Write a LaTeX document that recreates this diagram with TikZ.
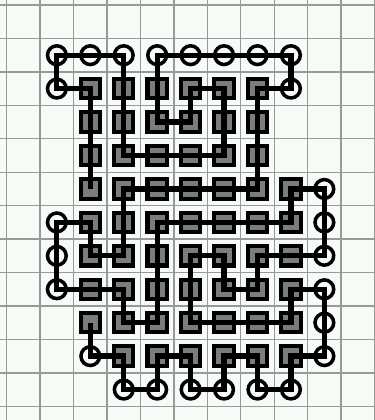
\documentclass[tikz,border=0pt]{standalone}
\usetikzlibrary{shapes.geometric}
\definecolor{bgcol}{HTML}{F7FBF7}
\definecolor{gridcol}{HTML}{979B97}
\definecolor{sqfill}{HTML}{7C7C7C}
\begin{document}
\begin{tikzpicture}[
  x=1cm,y=1cm,
  gridline/.style={draw=gridcol,line width=1.2pt},
  sqnode/.style={rectangle,draw=black,fill=sqfill,line width=3.5pt,minimum size=0.58cm,inner sep=0pt},
  circnode/.style={circle,draw=black,fill=bgcol,line width=3pt,minimum size=0.56cm,inner sep=0pt},
  tour/.style={draw=black,line width=4.5pt,line join=miter,line cap=butt}
]
\fill[bgcol] (-0.2,0.15) rectangle (11.01,-12.41);
\useasboundingbox (-0.2,0.15) rectangle (11.01,-12.41);
% grid
\foreach \i in {0,...,11} \draw[gridline] (\i,0.15) -- (\i,-12.41);
\foreach \j in {0,...,12} \draw[gridline] (-0.2,-\j) -- (11.01,-\j);
% circles
\foreach \c/\r in {1/1,2/1,3/1,4/1,5/1,6/1,7/1,8/1,1/2,8/2,9/5,1/6,9/6,1/7,9/7,1/8,9/8,9/9,2/10,9/10,3/11,4/11,5/11,6/11,7/11,8/11}
  \node[circnode] (n\c-\r) at (\c+0.5,-\r-0.5) {};
% squares
\foreach \r in {2,3,4} \foreach \c in {2,...,7}
  \node[sqnode] (n\c-\r) at (\c+0.5,-\r-0.5) {};
\foreach \r in {5,6,7,8,9} \foreach \c in {2,...,8}
  \node[sqnode] (n\c-\r) at (\c+0.5,-\r-0.5) {};
\foreach \c in {3,...,8}
  \node[sqnode] (n\c-10) at (\c+0.5,-10.5) {};
% tour
\draw[tour] (n2-9.center) -- (n2-10.center) -- (n3-10.center) -- (n3-11.center)
  -- (n4-11.center) -- (n4-10.center) -- (n5-10.center) -- (n5-11.center)
  -- (n6-11.center) -- (n6-10.center) -- (n7-10.center) -- (n7-11.center)
  -- (n8-11.center) -- (n8-10.center) -- (n9-10.center) -- (n9-8.center)
  -- (n8-8.center) -- (n8-9.center) -- (n5-9.center) -- (n5-7.center)
  -- (n6-7.center) -- (n6-8.center) -- (n7-8.center) -- (n7-7.center)
  -- (n9-7.center) -- (n9-5.center) -- (n8-5.center) -- (n8-6.center)
  -- (n4-6.center) -- (n4-9.center) -- (n3-9.center) -- (n3-8.center)
  -- (n1-8.center) -- (n1-6.center) -- (n2-6.center) -- (n2-7.center)
  -- (n3-7.center) -- (n3-5.center) -- (n7-5.center) -- (n7-2.center)
  -- (n8-2.center) -- (n8-1.center) -- (n4-1.center) -- (n4-3.center)
  -- (n5-3.center) -- (n5-2.center) -- (n6-2.center) -- (n6-4.center)
  -- (n3-4.center) -- (n3-1.center) -- (n1-1.center) -- (n1-2.center)
  -- (n2-2.center) -- (n2-5.center);
\end{tikzpicture}
\end{document}
